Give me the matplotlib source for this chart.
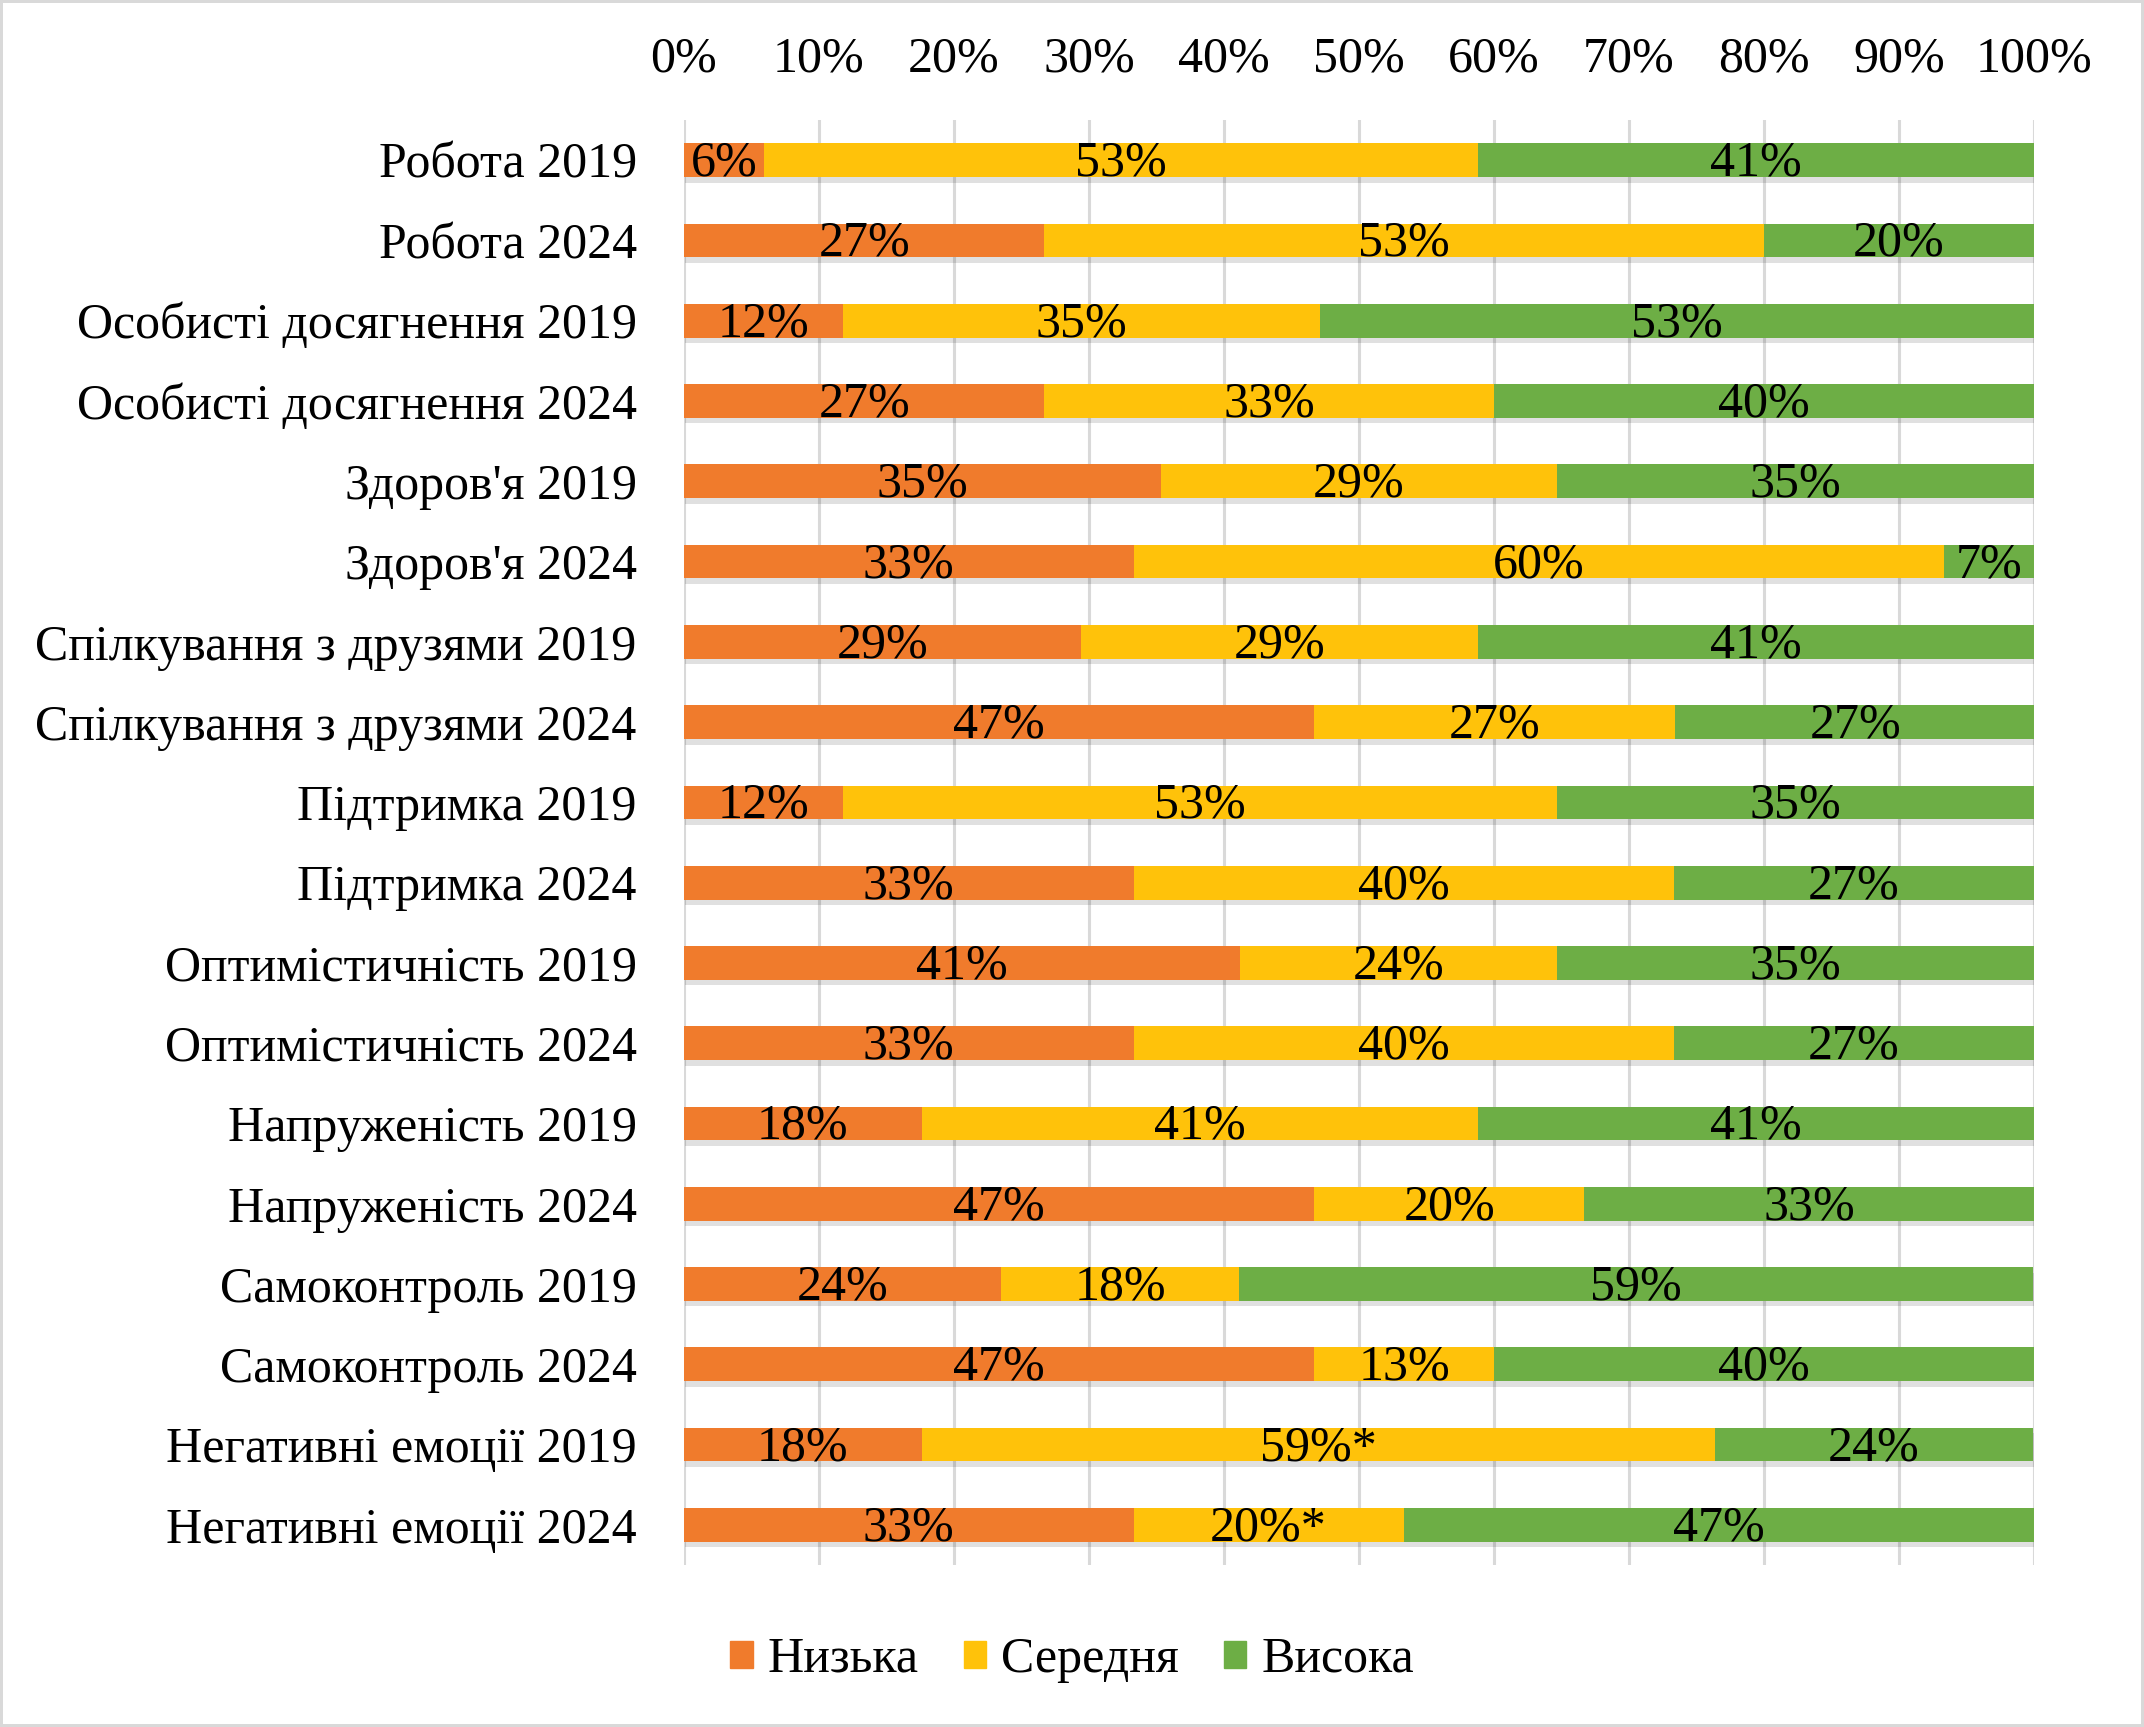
import matplotlib
matplotlib.use('Agg')
import matplotlib.pyplot as plt
import matplotlib.patches as mpatches
import matplotlib.patheffects as pe
import numpy as np

plt.rcParams['font.family'] = ['Liberation Serif', 'DejaVu Serif']

categories = [
    'Робота 2019', 'Робота 2024',
    'Особисті досягнення 2019', 'Особисті досягнення 2024',
    "Здоров'я 2019", "Здоров'я 2024",
    'Спілкування з друзями 2019', 'Спілкування з друзями 2024',
    'Підтримка 2019', 'Підтримка 2024',
    'Оптимістичність 2019', 'Оптимістичність 2024',
    'Напруженість 2019', 'Напруженість 2024',
    'Самоконтроль 2019', 'Самоконтроль 2024',
    'Негативні емоції 2019', 'Негативні емоції 2024',
]
low = [5.9, 26.7, 11.8, 26.7, 35.3, 33.3, 29.4, 46.7, 11.8, 33.3,
       41.2, 33.3, 17.6, 46.7, 23.5, 46.7, 17.6, 33.3]
mid = [52.9, 53.3, 35.3, 33.3, 29.4, 60.0, 29.4, 26.7, 52.9, 40.0,
       23.5, 40.0, 41.2, 20.0, 17.6, 13.3, 58.8, 20.0]
high = [41.2, 20.0, 52.9, 40.0, 35.3, 6.7, 41.2, 26.7, 35.3, 26.7,
        35.3, 26.7, 41.2, 33.3, 58.8, 40.0, 23.5, 46.7]
# позначки значущості для середнього рівня
mid_marks = [''] * 16 + ['*', '*']

series = ['Низька', 'Середня', 'Висока']
colors = ['#F07B2C', '#FFC20A', '#6DAE45']
fs = 36

fig = plt.figure(figsize=(21.44, 17.27), dpi=100)
fig.patch.set_edgecolor('#D9D9D9')
fig.patch.set_linewidth(3)
ax = fig.add_axes([0.319, 0.0938, 0.6297, 0.8367])

y = np.arange(len(categories))
left = np.zeros(len(categories))
shadow = [pe.SimplePatchShadow(offset=(1, -4), shadow_rgbFace='#000000', alpha=0.12), pe.Normal()]
for vals, col, name in zip([low, mid, high], colors, series):
    vals = np.array(vals)
    bars = ax.barh(y, vals, left=left, height=0.42, color=col, label=name, zorder=3)
    for b in bars:
        b.set_path_effects(shadow)
    for i, v in enumerate(vals):
        txt = '%d%%' % round(v)
        if name == 'Середня':
            txt += mid_marks[i]
        ax.text(left[i] + v / 2, y[i] + 0.04, txt, ha='center', va='center',
                fontsize=fs, color='black', zorder=5)
    left += vals

ax.set_xlim(0, 100)
ax.set_ylim(len(categories) - 0.5, -0.5)
ax.set_xticks(np.arange(0, 101, 10))
ax.set_xticklabels(['%d%%' % t for t in range(0, 101, 10)])
ax.xaxis.tick_top()
ax.set_yticks(y)
ax.set_yticklabels(categories)
ax.tick_params(axis='both', length=0, labelsize=fs)
ax.tick_params(axis='x', pad=27)
ax.tick_params(axis='y', pad=34)
ax.grid(axis='x', color='#D9D9D9', linewidth=2.2, zorder=0)
for s in ax.spines.values():
    s.set_visible(False)

patches = [mpatches.Patch(color=colors[i], label=series[i]) for i in range(3)]
fig.legend(handles=patches, loc='center', bbox_to_anchor=(0.5, 0.039), ncol=3,
           frameon=False, fontsize=fs, handlelength=0.45, handleheight=0.45,
           handletextpad=0.3, columnspacing=0.9)

fig.savefig('out.png', dpi=100, edgecolor=fig.get_edgecolor())
